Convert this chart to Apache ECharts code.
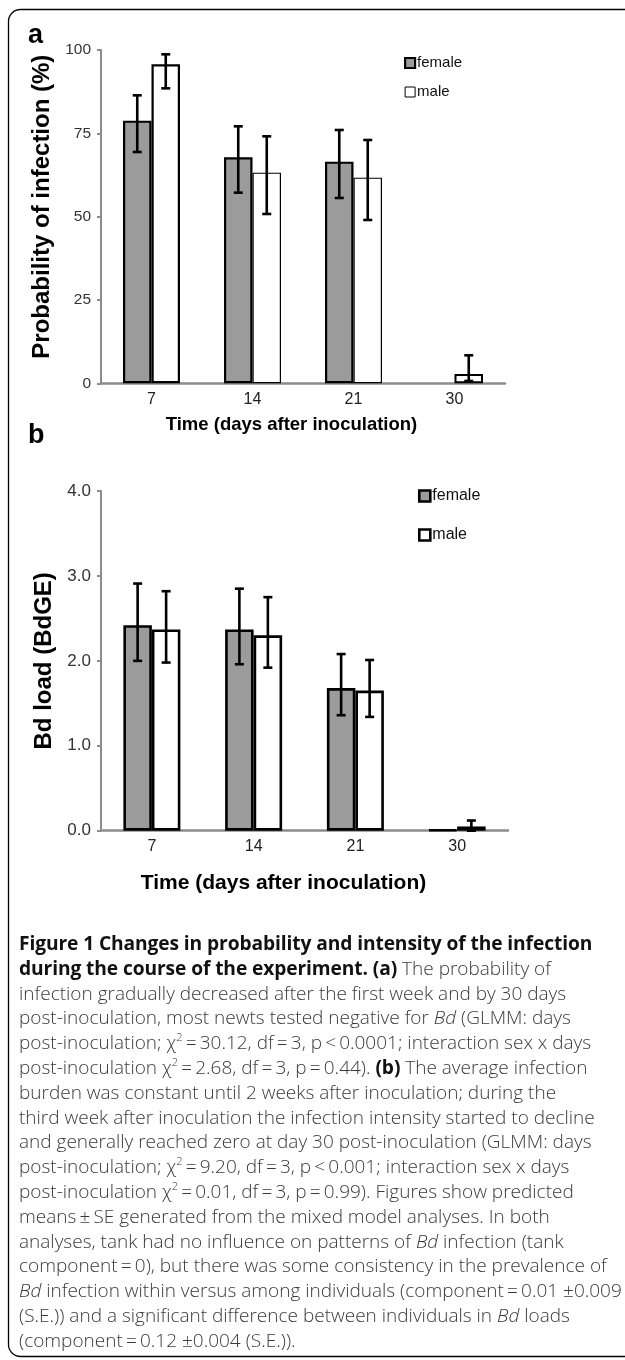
<!DOCTYPE html>
<html><head><meta charset="utf-8">
<script src="https://cdn.jsdelivr.net/npm/echarts@6/dist/echarts.min.js"></script>
<style>
html,body{margin:0;padding:0;background:#fff;}
#wrap{position:relative;width:625px;height:1360px;overflow:hidden;}
#chart{position:absolute;left:0;top:0;width:625px;height:1360px;}
#caption{position:absolute;left:19px;top:931px;font-family:"Open Sans","Noto Sans",sans-serif;font-size:19px;font-weight:300;line-height:24.8px;color:#3a3a3a;white-space:nowrap;}
#caption div{height:24.8px;}
#caption b{color:#111;font-weight:700;font-size:19.2px;letter-spacing:-0.1px;}
#caption sup{font-size:11px;line-height:0;position:relative;top:-1px;}
</style></head>
<body><div id="wrap"><div id="chart"></div>
<div id="caption">
<div><b>Figure 1 Changes in probability and intensity of the infection</b></div>
<div><b>during the course of the experiment. (a)</b> The probability of</div>
<div>infection gradually decreased after the first week and by 30 days</div>
<div>post-inoculation, most newts tested negative for <i>Bd</i> (GLMM: days</div>
<div>post-inoculation; χ<sup>2</sup>&thinsp;=&thinsp;30.12, df&thinsp;=&thinsp;3, p&thinsp;&lt;&thinsp;0.0001; interaction sex x days</div>
<div>post-inoculation χ<sup>2</sup>&thinsp;=&thinsp;2.68, df&thinsp;=&thinsp;3, p&thinsp;=&thinsp;0.44). <b>(b)</b> The average infection</div>
<div>burden was constant until 2 weeks after inoculation; during the</div>
<div>third week after inoculation the infection intensity started to decline</div>
<div>and generally reached zero at day 30 post-inoculation (GLMM: days</div>
<div>post-inoculation; χ<sup>2</sup>&thinsp;=&thinsp;9.20, df&thinsp;=&thinsp;3, p&thinsp;&lt;&thinsp;0.001; interaction sex x days</div>
<div>post-inoculation χ<sup>2</sup>&thinsp;=&thinsp;0.01, df&thinsp;=&thinsp;3, p&thinsp;=&thinsp;0.99). Figures show predicted</div>
<div>means&thinsp;±&thinsp;SE generated from the mixed model analyses. In both</div>
<div>analyses, tank had no influence on patterns of <i>Bd</i> infection (tank</div>
<div>component&thinsp;=&thinsp;0), but there was some consistency in the prevalence of</div>
<div><i>Bd</i> infection within versus among individuals (component&thinsp;=&thinsp;0.01 ±0.009</div>
<div>(S.E.)) and a significant difference between individuals in <i>Bd</i> loads</div>
<div>(component&thinsp;=&thinsp;0.12 ±0.004 (S.E.)).</div>
</div>
</div>
<script>
// ---- data ----
const categories = ['7', '14', '21', '30'];
const seriesNames = ['female', 'male'];

// panel a: probability of infection (%)
const probFemale     = [78.8, 67.8, 66.5, 0];
const probFemaleLow  = [69.4, 57.2, 55.6, 0];
const probFemaleHigh = [86.4, 77.1, 76.0, 0];
const probMale       = [95.7, 63.2, 61.7, 2.8];
const probMaleLow    = [88.5, 50.8, 49.0, 0.7];
const probMaleHigh   = [98.7, 74.1, 73.0, 8.4];

// panel b: Bd load (BdGE)
const loadFemale     = [2.42, 2.37, 1.68, 0.01];
const loadFemaleLow  = [2.00, 1.96, 1.36, 0.01];
const loadFemaleHigh = [2.91, 2.85, 2.08, 0.01];
const loadMale       = [2.37, 2.30, 1.65, 0.05];
const loadMaleLow    = [1.98, 1.92, 1.34, 0.00];
const loadMaleHigh   = [2.82, 2.75, 2.01, 0.12];

const yTicksA = [0, 100, 25];
const yTicksB = [0, 4, 1];

// ---- style ----
const FONT = '"Liberation Sans", Arial, sans-serif';
const FEMALE_FILL = '#9b9b9b';
const AXIS_GREY = '#8c8c8c';
const BAR_W = 28.5;

const chart = echarts.init(document.getElementById('chart'), null, {renderer: 'canvas'});

function barSeries(name, gi, values, fill, borders) {
  return {
    type: 'bar', name, xAxisIndex: gi, yAxisIndex: gi,
    barWidth: BAR_W, barGap: '0%',
    data: values.map((v, i) => ({value: v, itemStyle: {borderWidth: v === 0 ? 0 : borders[i]}})),
    itemStyle: {color: fill, borderColor: '#000'},
    emphasis: {disabled: true}, z: 3
  };
}
function errorSeries(name, gi, lows, highs, side) {
  return {
    type: 'custom', name, xAxisIndex: gi, yAxisIndex: gi, z: 6, silent: true,
    data: lows.map((l, i) => [i, l, highs[i]]),
    renderItem(params, api) {
      const lo = api.value(1), hi = api.value(2);
      if (hi - lo <= 0) return null;
      const b = api.coord([api.value(0), lo]);
      const t = api.coord([api.value(0), hi]);
      const x = b[0] + side * BAR_W / 2;
      const cap = 4.5;
      const st = {stroke: '#000', lineWidth: 2.6};
      return {type: 'group', children: [
        {type: 'line', shape: {x1: x, y1: b[1], x2: x, y2: t[1]}, style: st},
        {type: 'line', shape: {x1: x - cap, y1: t[1], x2: x + cap, y2: t[1]}, style: st},
        {type: 'line', shape: {x1: x - cap, y1: b[1], x2: x + cap, y2: b[1]}, style: st}
      ]};
    }
  };
}
function xAxisCfg(gi, nameSize, nameGap, padRight) {
  return {
    type: 'category', gridIndex: gi, data: categories,
    axisLine: {lineStyle: {color: AXIS_GREY, width: 2.5}},
    axisTick: {show: false},
    axisLabel: {fontSize: 16, color: '#222', margin: 8, fontFamily: FONT},
    name: 'Time (days after inoculation)', nameLocation: 'middle', nameGap,
    nameTextStyle: {fontSize: nameSize, fontWeight: 'bold', color: '#000', fontFamily: FONT, padding: [0, padRight, 0, 0]}
  };
}
function yAxisCfg(gi, ticks, name, labelSize, fmt, nameGap, padLeft) {
  return {
    type: 'value', gridIndex: gi, min: ticks[0], max: ticks[1], interval: ticks[2],
    splitLine: {show: false},
    axisLine: {show: true, lineStyle: {color: AXIS_GREY, width: 2}},
    axisTick: {show: true, length: 4, lineStyle: {color: AXIS_GREY, width: 2}},
    axisLabel: {fontSize: labelSize, color: '#333', margin: 10, fontFamily: FONT, formatter: fmt},
    name, nameLocation: 'middle', nameRotate: 90, nameGap,
    nameTextStyle: {fontSize: 24, fontWeight: 'bold', color: '#000', fontFamily: FONT, padding: [0, 0, 0, padLeft]}
  };
}
function legendCfg(left, top, sz, fontSize, lh, gap, femaleBorder, maleBorder) {
  return {
    orient: 'vertical', left, top, itemWidth: sz, itemHeight: sz, itemGap: gap, icon: 'rect',
    selectedMode: false, padding: 0,
    textStyle: {fontSize, lineHeight: lh, color: '#111', fontFamily: FONT, padding: [0, 0, 0, -3]},
    data: [
      {name: seriesNames[0], itemStyle: {color: FEMALE_FILL, borderColor: '#000', borderWidth: femaleBorder}},
      {name: seriesNames[1], itemStyle: {color: '#fff', borderColor: '#000', borderWidth: maleBorder}}
    ]
  };
}

const option = {
  animation: false,
  textStyle: {fontFamily: FONT},
  grid: [
    {left: 101, top: 50, width: 404, height: 333.3},
    {left: 101, top: 491, width: 407, height: 339.7}
  ],
  xAxis: [xAxisCfg(0, 18.5, 32, 23), xAxisCfg(1, 21, 42, 42)],
  yAxis: [
    yAxisCfg(0, yTicksA, 'Probability of infection (%)', 15.5, v => String(v), 45, 20),
    yAxisCfg(1, yTicksB, 'Bd load (BdGE)', 17, v => v.toFixed(1), 43, 0)
  ],
  legend: [
    legendCfg(404, 55, 10, 15, 16, 13, 2.2, 1),
    legendCfg(418, 487, 11, 16, 18, 21, 2.6, 2.6)
  ],
  series: [
    barSeries(seriesNames[0], 0, probFemale, FEMALE_FILL, [2.2, 2.2, 2.2, 2.2]),
    barSeries(seriesNames[1], 0, probMale, '#fff', [2.2, 1.2, 1.2, 2.0]),
    errorSeries('female SE a', 0, probFemaleLow, probFemaleHigh, -1),
    errorSeries('male SE a', 0, probMaleLow, probMaleHigh, 1),
    barSeries(seriesNames[0], 1, loadFemale, FEMALE_FILL, [2.6, 2.6, 2.6, 2.6]),
    barSeries(seriesNames[1], 1, loadMale, '#fff', [2.6, 2.6, 2.6, 2.6]),
    errorSeries('female SE b', 1, loadFemaleLow, loadFemaleHigh, -1),
    errorSeries('male SE b', 1, loadMaleLow, loadMaleHigh, 1)
  ],
  graphic: [
    {type: 'rect', shape: {x: 8.5, y: 9.5, width: 660, height: 1347, r: 12}, style: {fill: null, stroke: '#000', lineWidth: 1.3}, silent: true},
    {type: 'text', left: 28, top: 22, style: {text: 'a', font: 'bold 27px ' + FONT, fill: '#000'}},
    {type: 'text', left: 28, top: 422, style: {text: 'b', font: 'bold 27px ' + FONT, fill: '#000'}}
  ]
};
chart.setOption(option);
</script>
</body></html>
